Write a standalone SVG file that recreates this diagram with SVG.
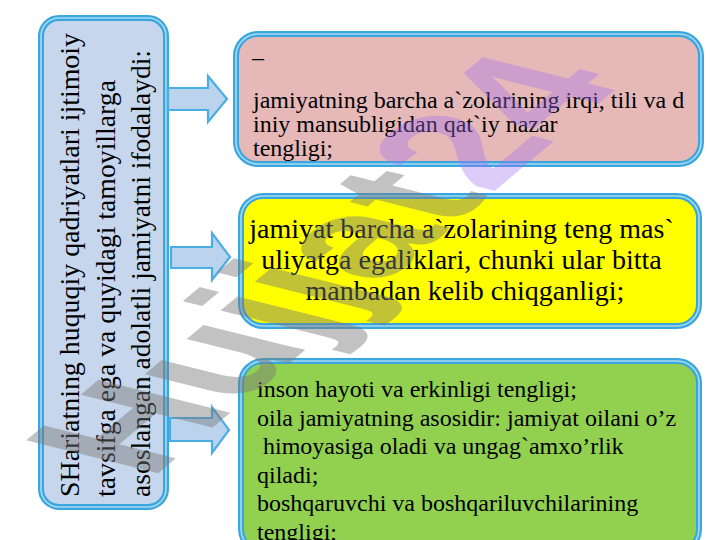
<svg xmlns="http://www.w3.org/2000/svg" width="720" height="540" viewBox="0 0 720 540">
  <style>
    .frame { stroke: #3AA6DE; stroke-width: 6; }
    .inner { fill: none; stroke: #A8DAF3; stroke-width: 1.6; }
    .t { font-family: "Liberation Serif", "Times New Roman", serif; fill: #000; }
    .arrow { fill: #BCD3EE; stroke: #4BAEE3; stroke-width: 2.2; stroke-linejoin: miter; }
    .wm { font-family: "Liberation Sans", Arial, sans-serif; font-weight: bold; font-size: 160px; }
  </style>
  <rect width="720" height="540" fill="#FFFFFF"/>

  <g id="source">
    <rect class="frame" x="41" y="18" width="125" height="489" rx="18" fill="#C6D6EC"/>
    <rect class="inner" x="41" y="18" width="125" height="489" rx="18"/>
    <text class="t" font-size="27.5" transform="translate(79,497) rotate(-90)" textLength="464" lengthAdjust="spacingAndGlyphs">SHariatning huquqiy qadriyatlari ijtimoiy</text>
    <text class="t" font-size="27.5" transform="translate(114.5,497) rotate(-90)" textLength="417" lengthAdjust="spacingAndGlyphs">tavsifga ega va quyidagi tamoyillarga</text>
    <text class="t" font-size="27.5" transform="translate(150,497) rotate(-90)" textLength="447" lengthAdjust="spacingAndGlyphs">asoslangan adolatli jamiyatni ifodalaydi:</text>
  </g>

  <g id="connectors">
    <path class="arrow" d="M168,88 H208 V76 L227,99 L208,122 V110 H168 Z"/>
    <path class="arrow" d="M171,247 H212 V233 L230,257 L212,280 V268 H171 Z"/>
    <path class="arrow" d="M170,418 H212 V407 L229,430 L212,453 V441 H170 Z"/>
  </g>

  <g id="box1">
    <rect class="frame" x="236" y="34" width="465" height="130" rx="22" fill="#E6B9B8"/>
    <rect class="inner" x="236" y="34" width="465" height="130" rx="22"/>
    <text class="t" font-size="24">
      <tspan x="252" y="65">–</tspan>
      <tspan x="253" y="108">jamiyatning barcha a`zolarining irqi, tili va d</tspan>
      <tspan x="253" y="132">iniy mansubligidan qat`iy nazar</tspan>
      <tspan x="253" y="156">tengligi;</tspan>
    </text>
  </g>

  <g id="box2">
    <rect class="frame" x="241" y="196" width="458" height="130" rx="22" fill="#FFFF00"/>
    <rect class="inner" x="241" y="196" width="458" height="130" rx="22"/>
    <text class="t" font-size="28" text-anchor="middle">
      <tspan x="465" y="238">jamiyat barcha a`zolarining teng mas`</tspan>
      <tspan x="465" y="269">uliyatga egaliklari, chunki ular bitta</tspan>
      <tspan x="465" y="300">manbadan kelib chiqganligi;</tspan>
    </text>
  </g>

  <g id="box3">
    <rect class="frame" x="241" y="361" width="458" height="190" rx="22" fill="#92D050"/>
    <rect class="inner" x="241" y="361" width="458" height="190" rx="22"/>
    <text class="t" font-size="24" xml:space="preserve"><tspan x="257" y="397">inson hayoti va erkinligi tengligi;</tspan><tspan x="257" y="425.5">oila jamiyatning asosidir: jamiyat oilani o’z</tspan><tspan x="257" y="454"> himoyasiga oladi va ungag`amxo’rlik</tspan><tspan x="257" y="482.5">qiladi;</tspan><tspan x="257" y="511">boshqaruvchi va boshqariluvchilarining</tspan><tspan x="257" y="539.5">tengligi;</tspan></text>
  </g>

  <g id="watermark" transform="translate(150,480) rotate(-40) skewX(36)">
    <text class="wm" x="0" y="0"><tspan fill="#777777" fill-opacity="0.45">Hujjat</tspan><tspan fill="#A070F0" fill-opacity="0.36">24</tspan></text>
  </g>
</svg>
